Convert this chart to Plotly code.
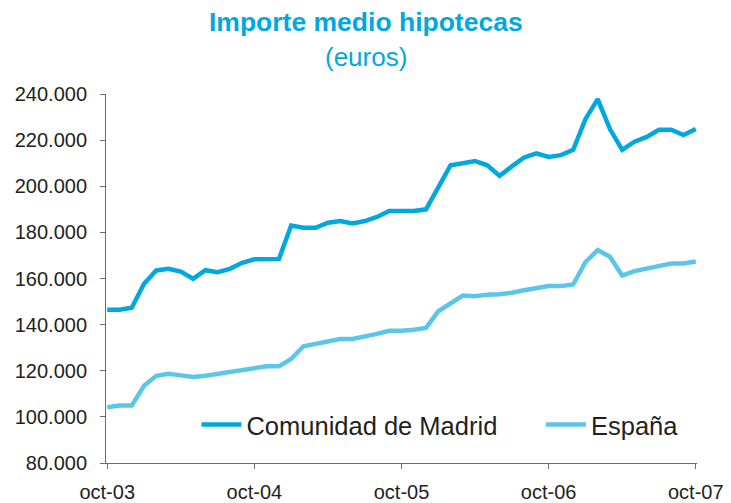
import plotly.graph_objects as go

months = list(range(49))
tick_vals = [0, 12, 24, 36, 48]
tick_text = ["oct-03", "oct-04", "oct-05", "oct-06", "oct-07"]

madrid = [146500, 146500, 147300, 157700, 163500, 164200, 163000, 159900, 163600, 162700,
          164200, 166800, 168300, 168300, 168400, 183000, 182000, 182000, 184200, 184900,
          183900, 184900, 186700, 189300, 189300, 189300, 190000, 199400, 209100, 210000,
          210900, 209100, 204500, 208600, 212500, 214300, 212700, 213500, 215800, 229100,
          237800, 224800, 215800, 219300, 221400, 224500, 224500, 222200, 224800]

espana = [104200, 104900, 104900, 113500, 117800, 118700, 118000, 117300, 117800, 118700,
          119400, 120100, 121200, 121900, 121900, 125100, 130600, 131600, 132600, 133800,
          133800, 134700, 136000, 137300, 137300, 137800, 138600, 145800, 149400, 152600,
          152300, 153000, 153200, 153800, 154900, 155900, 156700, 156700, 157400, 167100,
          172300, 169400, 161300, 163200, 164300, 165800, 166500, 166500, 167400]

series_names = ["Comunidad de Madrid", "España"]
title_text = "Importe medio hipotecas"
subtitle_text = "(euros)"

c_madrid = "rgb(0,168,224)"
c_espana = "rgb(92,197,234)"
font_family = "Liberation Sans, Arial, sans-serif"
text_color = "#231F20"
axis_color = "#6d6d6d"

# page body has an 8px default margin; size the figure to fill the rest of the window
OFF = 8
W, H = 731 - OFF, 503 - OFF
ML, MR, MT, MB = 106 - OFF, 34, 94 - OFF, 40
plot_w = W - ML - MR
plot_h = H - MT - MB

fig = go.Figure()
fig.add_trace(go.Scatter(x=months, y=madrid, mode="lines", name=series_names[0],
                         line=dict(color=c_madrid, width=4.5), legend="legend"))
fig.add_trace(go.Scatter(x=months, y=espana, mode="lines", name=series_names[1],
                         line=dict(color=c_espana, width=4.5), legend="legend2"))

legend_style = dict(orientation="h", y=0.103, xanchor="left", yanchor="middle",
                    font=dict(size=25.5, color=text_color), bgcolor="rgba(0,0,0,0)",
                    itemwidth=40)

title_x = (365.5 - OFF - ML) / plot_w
fig.update_layout(
    width=W, height=H,
    margin=dict(l=ML, r=MR, t=MT, b=MB, pad=0, autoexpand=False),
    paper_bgcolor="white", plot_bgcolor="white",
    separators=",.",
    font=dict(family=font_family, size=20, color=text_color),
    showlegend=True,
    legend=dict(x=0.153, **legend_style),
    legend2=dict(x=0.736, **legend_style),
    annotations=[
        dict(text="<b>" + title_text + "</b>", x=title_x, y=1 + (MT - (22 - OFF)) / plot_h,
             xref="paper", yref="paper", xanchor="center", yanchor="middle",
             showarrow=False, font=dict(size=26.5, color=c_madrid, family=font_family)),
        dict(text=subtitle_text, x=title_x, y=1 + (MT - (57 - OFF)) / plot_h,
             xref="paper", yref="paper", xanchor="center", yanchor="middle",
             showarrow=False, font=dict(size=26, color=c_madrid, family=font_family)),
    ],
)

fig.update_xaxes(
    range=[-0.1, 48.1], tickmode="array", tickvals=tick_vals, ticktext=tick_text,
    showgrid=False, zeroline=False, showline=True, linecolor=axis_color, linewidth=1,
    ticks="outside", ticklen=5, tickcolor=axis_color, tickwidth=1, automargin=False,
    ticklabelstandoff=6, tickfont=dict(size=20, color=text_color),
)
fig.update_yaxes(
    range=[80000, 240000], tickmode="linear", tick0=80000, dtick=20000,
    tickformat=",d", showgrid=False, zeroline=False, showline=True,
    linecolor=axis_color, linewidth=1, ticks="outside", ticklen=5, automargin=False,
    tickcolor=axis_color, tickwidth=1, ticklabelstandoff=9,
    tickfont=dict(size=20, color=text_color),
)

fig.write_html("out.html")
